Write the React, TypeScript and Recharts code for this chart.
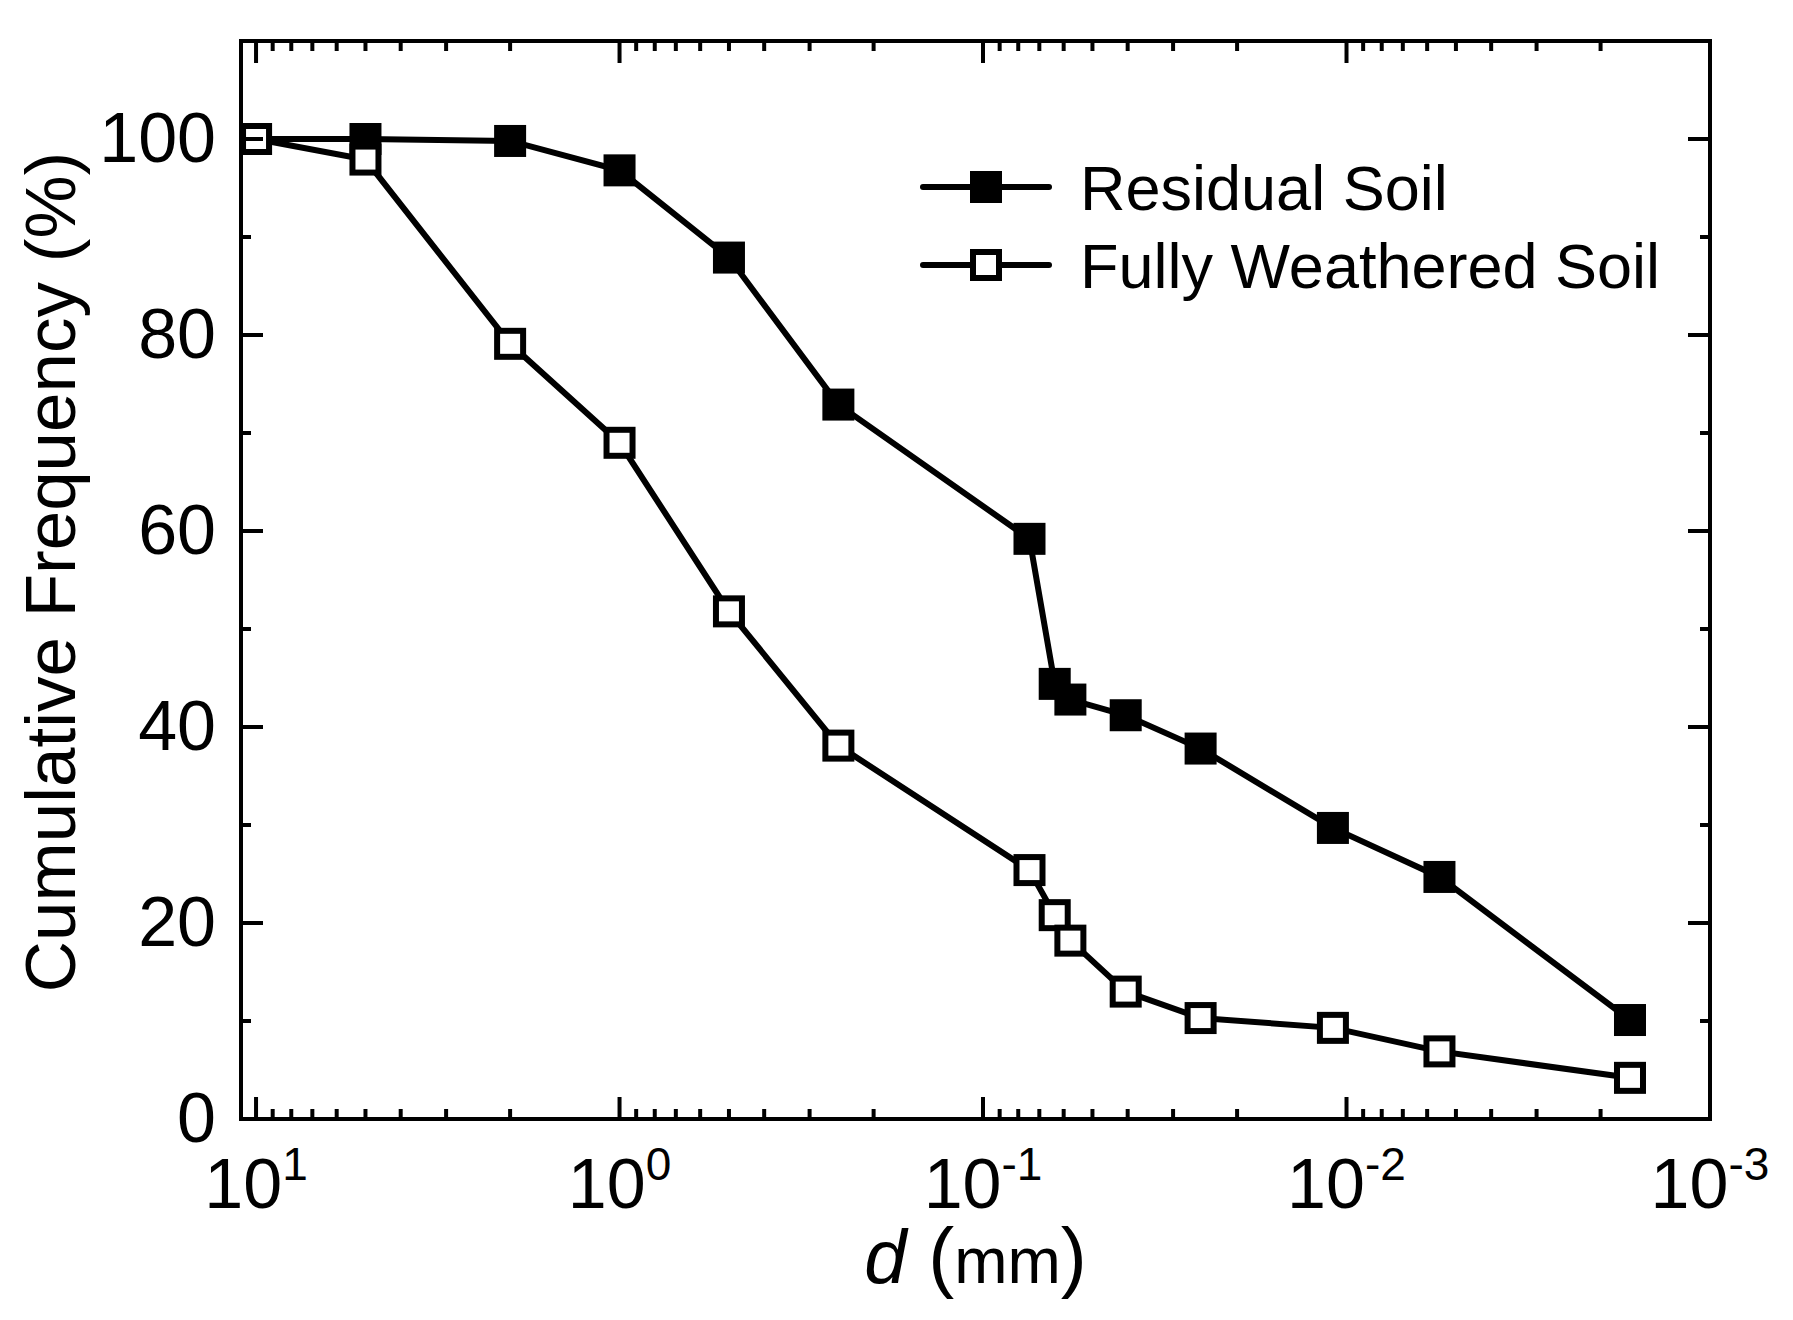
import { Legend, Scatter, ScatterChart, XAxis, YAxis } from "recharts";

const FONT = '"Liberation Sans", Arial, sans-serif';

// particle size d (mm)
const sizeMm = [10, 5, 2, 1, 0.5, 0.25, 0.0745, 0.0635, 0.0575, 0.0405, 0.0252, 0.0109, 0.00555, 0.00166];
// cumulative passing (%)
const residualSoil = [100, 100, 99.8, 96.8, 87.9, 72.9, 59.2, 44.4, 42.8, 41.2, 37.8, 29.7, 24.7, 10.1];
const fullyWeatheredSoil = [100, 97.9, 79.1, 69.0, 51.8, 38.1, 25.4, 20.8, 18.2, 13.0, 10.3, 9.3, 6.9, 4.2];

const seriesNames = ["Residual Soil", "Fully Weathered Soil"];

const xMajorTicks = [10, 1, 0.1, 0.01, 0.001];
const xMajorExponents = ["1", "0", "-1", "-2", "-3"];
const xMinorSteps = [2, 3, 4, 5, 6, 7, 8, 9];
const xTicks = [
  ...xMajorTicks,
  ...[1, 0.1, 0.01, 0.001].flatMap((base) => xMinorSteps.map((s) => Number((s * base).toPrecision(6)))),
];
const yTicks = [0, 10, 20, 30, 40, 50, 60, 70, 80, 90, 100, 110];
const yLabelTicks = [0, 20, 40, 60, 80, 100];

const residualData = sizeMm.map((d, i) => ({ d, p: residualSoil[i] }));
const weatheredData = sizeMm.map((d, i) => ({ d, p: fullyWeatheredSoil[i] }));

const MAJOR = 22;
const MINOR = 10;
const axisLine = { stroke: "#000", strokeWidth: 4, strokeLinecap: "square" as const };

function BottomTick({ x, y, payload }: any) {
  const i = xMajorTicks.indexOf(payload.value);
  return (
    <g>
      <line x1={x} x2={x} y1={y} y2={y - (i >= 0 ? MAJOR : MINOR)} stroke="#000" strokeWidth={4} />
      {i >= 0 && (
        <text x={x} y={y + 89} textAnchor="middle" fontSize={70} fontFamily={FONT} fill="#000">
          <tspan>10</tspan>
          <tspan fontSize={46} dy={-28}>
            {xMajorExponents[i]}
          </tspan>
        </text>
      )}
    </g>
  );
}

function TopTick({ x, y, payload }: any) {
  const major = xMajorTicks.includes(payload.value);
  return <line x1={x} x2={x} y1={y} y2={y + (major ? MAJOR : MINOR)} stroke="#000" strokeWidth={4} />;
}

function LeftTick({ x, y, payload }: any) {
  const major = yLabelTicks.includes(payload.value);
  return (
    <g>
      <line x1={x} x2={x + (major ? MAJOR : MINOR)} y1={y} y2={y} stroke="#000" strokeWidth={4} />
      {major && (
        <text x={x - 25} y={y + 23} textAnchor="end" fontSize={70} fontFamily={FONT} fill="#000">
          {payload.value}
        </text>
      )}
    </g>
  );
}

function RightTick({ x, y, payload }: any) {
  const major = yLabelTicks.includes(payload.value);
  return <line x1={x} x2={x - (major ? MAJOR : MINOR)} y1={y} y2={y} stroke="#000" strokeWidth={4} />;
}

function XLabel({ viewBox }: any) {
  const cx = viewBox.x + viewBox.width / 2;
  const by = viewBox.y + 164;
  return (
    <text x={cx} y={by} textAnchor="middle" fontFamily={FONT} fill="#000">
      <tspan fontSize={76} fontStyle="italic">d</tspan>
      <tspan fontSize={78}> (</tspan>
      <tspan fontSize={64}>mm</tspan>
      <tspan fontSize={78}>)</tspan>
    </text>
  );
}

function YLabel({ viewBox }: any) {
  const cx = viewBox.x + viewBox.width - 166;
  const cy = viewBox.y + viewBox.height / 2 - 8;
  return (
    <text
      x={cx}
      y={cy}
      transform={`rotate(-90, ${cx}, ${cy})`}
      textAnchor="middle"
      fontSize={71}
      fontFamily={FONT}
      fill="#000"
    >
      Cumulative Frequency (%)
    </text>
  );
}

const FilledSquare = (p: any) => <rect x={p.cx - 16} y={p.cy - 16} width={32} height={32} fill="#000" />;
const OpenSquare = (p: any) => (
  <rect x={p.cx - 13} y={p.cy - 13} width={26} height={26} fill="#fff" stroke="#000" strokeWidth={6} />
);

function LegendBox() {
  return (
    <svg width={800} height={170}>
      {seriesNames.map((name, i) => {
        const cy = 47 + i * 78;
        return (
          <g key={name}>
            <line x1={23} x2={149} y1={cy} y2={cy} stroke="#000" strokeWidth={6} strokeLinecap="round" />
            {i === 0 ? (
              <rect x={70} y={cy - 16} width={32} height={32} fill="#000" />
            ) : (
              <rect x={73} y={cy - 13} width={26} height={26} fill="#fff" stroke="#000" strokeWidth={6} />
            )}
            <text x={180} y={cy + 23} fontSize={63} fontFamily={FONT} fill="#000">
              {name}
            </text>
          </g>
        );
      })}
    </svg>
  );
}

export default function App() {
  // axes get 1px so Recharts still draws them; margins absorb that pixel
  const xCommon = {
    type: "number" as const,
    dataKey: "d",
    scale: "log" as const,
    domain: [0.001, 11],
    reversed: true,
    allowDataOverflow: true,
    ticks: xTicks,
    interval: 0 as const,
    height: 1,
    tickSize: 0,
    tickMargin: 0,
    tickLine: false,
    axisLine,
  };
  const yCommon = {
    type: "number" as const,
    dataKey: "p",
    domain: [0, 110],
    allowDataOverflow: true,
    ticks: yTicks,
    interval: 0 as const,
    width: 1,
    tickSize: 0,
    tickMargin: 0,
    tickLine: false,
    axisLine,
  };

  return (
    <div style={{ width: 1793, height: 1320, background: "#fff" }}>
      <style>{"body{margin:0;background:#fff}"}</style>
      <ScatterChart width={1793} height={1320} margin={{ top: 40, right: 82, bottom: 200, left: 240 }}>
        <XAxis xAxisId="bottom" {...xCommon} tick={BottomTick} label={XLabel} />
        <XAxis xAxisId="top" orientation="top" {...xCommon} tick={TopTick} />
        <YAxis yAxisId="left" {...yCommon} tick={LeftTick} label={YLabel} />
        <YAxis yAxisId="right" orientation="right" {...yCommon} tick={RightTick} />
        <Legend
          layout="vertical"
          align="center"
          verticalAlign="middle"
          content={LegendBox}
          wrapperStyle={{ left: 900, top: 140, width: 800, height: 170 }}
        />
        <Scatter
          name={seriesNames[0]}
          data={residualData}
          xAxisId="bottom"
          yAxisId="left"
          line={{ stroke: "#000", strokeWidth: 6 }}
          shape={FilledSquare}
          isAnimationActive={false}
        />
        <Scatter
          name={seriesNames[1]}
          data={weatheredData}
          xAxisId="bottom"
          yAxisId="left"
          line={{ stroke: "#000", strokeWidth: 6 }}
          shape={OpenSquare}
          isAnimationActive={false}
        />
      </ScatterChart>
    </div>
  );
}
